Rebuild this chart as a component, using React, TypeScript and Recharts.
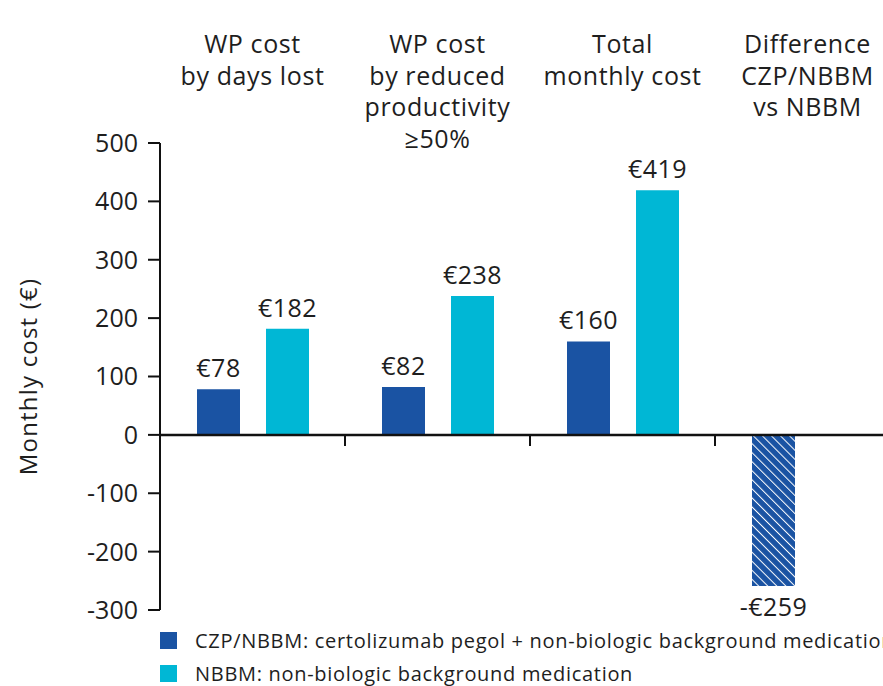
import React from "react";
import {
  BarChart,
  Bar,
  Cell,
  XAxis,
  YAxis,
  ReferenceLine,
  LabelList,
  Legend,
} from "recharts";

const categoryLines = [
  ["WP cost", "by days lost"],
  ["WP cost", "by reduced", "productivity", "≥50%"],
  ["Total", "monthly cost"],
  ["Difference", "CZP/NBBM", "vs NBBM"],
];
const categories = categoryLines.map((l) => l.join(" "));
const czpValues = [78, 82, 160, -259];
const nbbmValues: (number | null)[] = [182, 238, 419, null];
const yTicks = [-300, -200, -100, 0, 100, 200, 300, 400, 500];

const czpName = "CZP/NBBM: certolizumab pegol + non-biologic background medication";
const nbbmName = "NBBM: non-biologic background medication";

const DARK = "#1a53a3";
const CYAN = "#00b7d5";
const TEXT = "#1e1e1e";

const data = categories.map((name, i) => ({
  name,
  czp: czpValues[i],
  nbbm: nbbmValues[i],
}));

const fmt = (v: any) => {
  if (v === null || v === undefined) return "";
  return v < 0 ? `-€${-v}` : `€${v}`;
};

const CategoryTick = (props: any) => {
  const { x, y, payload } = props;
  const lines = categoryLines[payload.index] || [String(payload.value)];
  return (
    <text
      x={x}
      y={y - 90}
      textAnchor="middle"
      fill={TEXT}
      fontSize={25}
      style={{ letterSpacing: 0.6 }}
    >
      {lines.map((line, i) => (
        <tspan key={i} x={x} dy={i === 0 ? 0 : 31.5}>
          {line}
        </tspan>
      ))}
    </text>
  );
};

const ZeroLine = (props: any) => {
  const { x1, y1, x2 } = props;
  const n = categories.length;
  const step = (x2 - x1) / n;
  return (
    <g>
      <line x1={x1} y1={y1} x2={x2} y2={y1} stroke="#111" strokeWidth={2.5} />
      {categories.slice(1).map((_, k) => (
        <line
          key={k}
          x1={x1 + step * (k + 1)}
          x2={x1 + step * (k + 1)}
          y1={y1}
          y2={y1 + 11}
          stroke="#111"
          strokeWidth={2}
        />
      ))}
    </g>
  );
};

const LegendContent = () => {
  const items = [
    { name: czpName, color: DARK },
    { name: nbbmName, color: CYAN },
  ];
  return (
    <div style={{ paddingTop: 14, paddingLeft: 160 }}>
      {items.map((it) => (
        <div
          key={it.name}
          style={{
            height: 33,
            display: "flex",
            alignItems: "center",
            whiteSpace: "nowrap",
            fontSize: 20,
            letterSpacing: 0.7,
            color: TEXT,
          }}
        >
          <span
            style={{
              display: "inline-block",
              width: 17,
              height: 17,
              background: it.color,
              marginRight: 18,
              flexShrink: 0,
            }}
          />
          {it.name}
        </div>
      ))}
    </div>
  );
};

export default function App() {
  return (
    <div
      style={{
        position: "fixed",
        left: 0,
        top: 0,
        width: 883,
        height: 686,
        overflow: "hidden",
        background: "#fff",
        fontFamily: "'Open Sans', sans-serif",
      }}
    >
      <BarChart
        width={920}
        height={690}
        data={data}
        margin={{ top: 0, right: 20, left: 0, bottom: 0 }}
        barGap={26}
      >
        <defs>
          <pattern
            id="hatch"
            patternUnits="userSpaceOnUse"
            width={6.4}
            height={6.4}
            patternTransform="rotate(-45)"
          >
            <rect width={6.4} height={6.4} fill={DARK} />
            <line x1={0} y1={0} x2={0} y2={6.4} stroke="#fff" strokeWidth={2} />
          </pattern>
        </defs>
        <XAxis
          dataKey="name"
          orientation="top"
          height={143}
          axisLine={false}
          tickLine={false}
          tickSize={0}
          tickMargin={0}
          interval={0}
          tick={<CategoryTick />}
        />
        <YAxis
          width={160}
          domain={[-300, 500]}
          ticks={yTicks}
          interval={0}
          axisLine={{ stroke: "#111", strokeWidth: 2 }}
          tickLine={{ stroke: "#111", strokeWidth: 2 }}
          tickSize={12}
          tickMargin={10}
          tick={{ fill: TEXT, fontSize: 25 }}
          label={{
            value: "Monthly cost (€)",
            angle: -90,
            position: "insideLeft",
            offset: 28,
            fill: TEXT,
            fontSize: 24,
            style: { textAnchor: "middle", letterSpacing: 1.2 },
          }}
        />
        <Legend verticalAlign="bottom" align="left" content={<LegendContent />} />
        <Bar dataKey="czp" name={czpName} fill={DARK} barSize={43} isAnimationActive={false}>
          {data.map((d, i) => (
            <Cell key={i} fill={d.czp < 0 ? "url(#hatch)" : DARK} />
          ))}
          <LabelList
            dataKey="czp"
            position="top"
            offset={12}
            formatter={fmt}
            fill={TEXT}
            fontSize={25}
            style={{ letterSpacing: 0.5 }}
          />
        </Bar>
        <Bar dataKey="nbbm" name={nbbmName} fill={CYAN} barSize={43} isAnimationActive={false}>
          <LabelList
            dataKey="nbbm"
            position="top"
            offset={12}
            formatter={fmt}
            fill={TEXT}
            fontSize={25}
            style={{ letterSpacing: 0.5 }}
          />
        </Bar>
        <ReferenceLine y={0} stroke="#111" shape={<ZeroLine />} />
      </BarChart>
    </div>
  );
}
